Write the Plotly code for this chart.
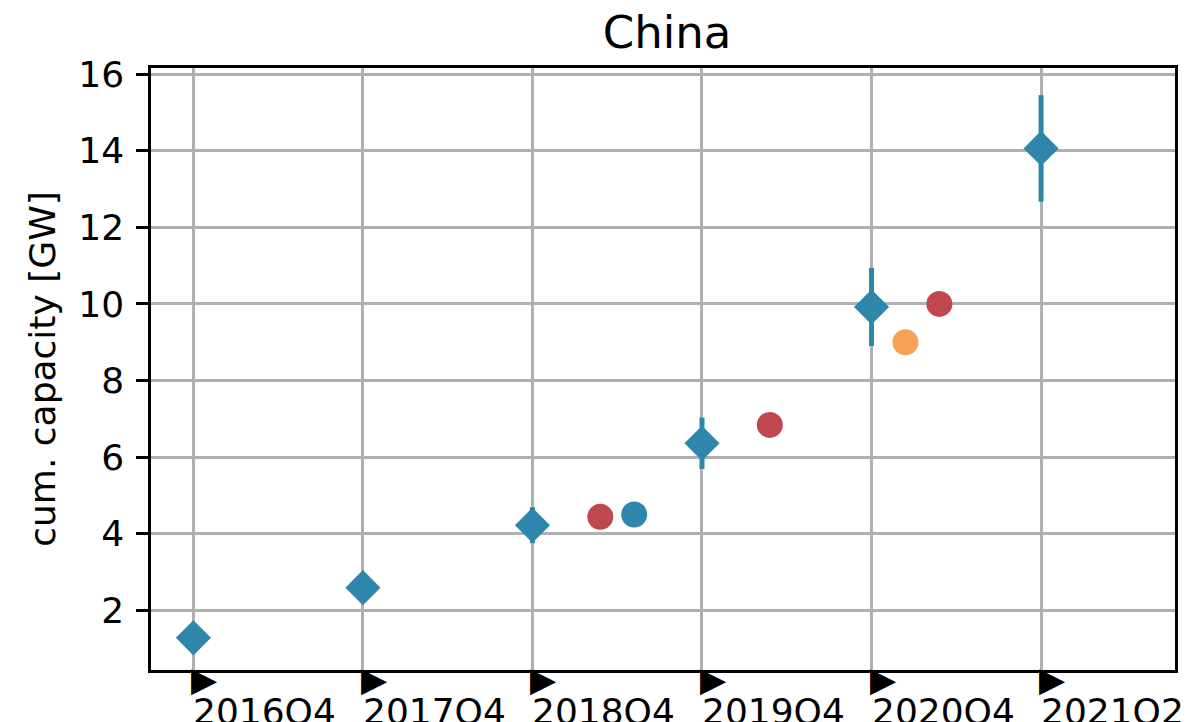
import plotly.graph_objects as go

# ---- data ----
quarters = ["2016Q4", "2017Q4", "2018Q4", "2019Q4", "2020Q4", "2021Q2"]
q_pos = [0, 1, 2, 3, 4, 5]

# main estimate (diamonds with error bars)
main_vals = [1.28, 2.59, 4.22, 6.36, 9.92, 14.06]
main_err = [0.0, 0.0, 0.47, 0.67, 1.02, 1.39]

# other sources (circles), positions as quarter index + offset
red_x = [2.4, 3.4, 4.4]
red_vals = [4.44, 6.84, 10.0]
blue_x = [2.6]
blue_vals = [4.50]
orange_x = [4.2]
orange_vals = [9.0]

BLUE = "#2E86AB"
RED = "#C0474F"
ORANGE = "#F5A258"
FONT = "DejaVu Sans"

fig = go.Figure()

fig.add_trace(go.Scatter(
    x=q_pos, y=main_vals, mode="markers",
    marker=dict(symbol="diamond", size=27, color=BLUE),
    error_y=dict(type="data", array=main_err, visible=True, color=BLUE,
                 thickness=5, width=0),
    showlegend=False,
))
fig.add_trace(go.Scatter(
    x=red_x, y=red_vals, mode="markers",
    marker=dict(symbol="circle", size=26, color=RED), showlegend=False,
))
fig.add_trace(go.Scatter(
    x=blue_x, y=blue_vals, mode="markers",
    marker=dict(symbol="circle", size=26, color=BLUE), showlegend=False,
))
fig.add_trace(go.Scatter(
    x=orange_x, y=orange_vals, mode="markers",
    marker=dict(symbol="circle", size=26, color=ORANGE), showlegend=False,
))

# x tick labels: triangle marker + left-aligned label
for p, q in zip(q_pos, quarters):
    fig.add_annotation(x=p, y=0, xref="x", yref="paper", text="▶",
                       showarrow=False, xanchor="left", yanchor="top",
                       xshift=-4, yshift=13, font=dict(family=FONT, size=34, color="black"))
    fig.add_annotation(x=p, y=0, xref="x", yref="paper", text=q,
                       showarrow=False, xanchor="left", yanchor="top",
                       xshift=-2, yshift=-19, font=dict(family=FONT, size=36, color="black"))

fig.update_layout(
    width=1191, height=722,
    margin=dict(l=143, r=24, t=60, b=60),
    paper_bgcolor="white", plot_bgcolor="white",
    font=dict(family=FONT, size=36, color="black"),
    title=dict(text="China", x=(143 + 1167) / 2 / 1191 + 4 / 1191, xanchor="center",
               y=1 - 24 / 722, yanchor="middle", yref="container",
               font=dict(family=FONT, size=45, color="black")),
)
fig.update_xaxes(
    range=[-0.25, 5.79], tickvals=q_pos, showticklabels=False, ticks="",
    showgrid=True, gridcolor="#b0b0b0", gridwidth=2.5,
    showline=True, linecolor="black", linewidth=2.5, mirror=True, zeroline=False,
)
fig.update_yaxes(
    range=[0.44, 16.16], tickvals=[2, 4, 6, 8, 10, 12, 14, 16],
    ticks="outside", ticklen=12, tickwidth=2.5, tickcolor="black",
    ticklabelstandoff=5,
    showgrid=True, gridcolor="#b0b0b0", gridwidth=2.5,
    showline=True, linecolor="black", linewidth=2.5, mirror=True, zeroline=False,
    title=dict(text="cum. capacity [GW]", standoff=12,
               font=dict(family=FONT, size=36, color="black")),
    tickfont=dict(family=FONT, size=36, color="black"),
)

fig.write_html("out.html")
